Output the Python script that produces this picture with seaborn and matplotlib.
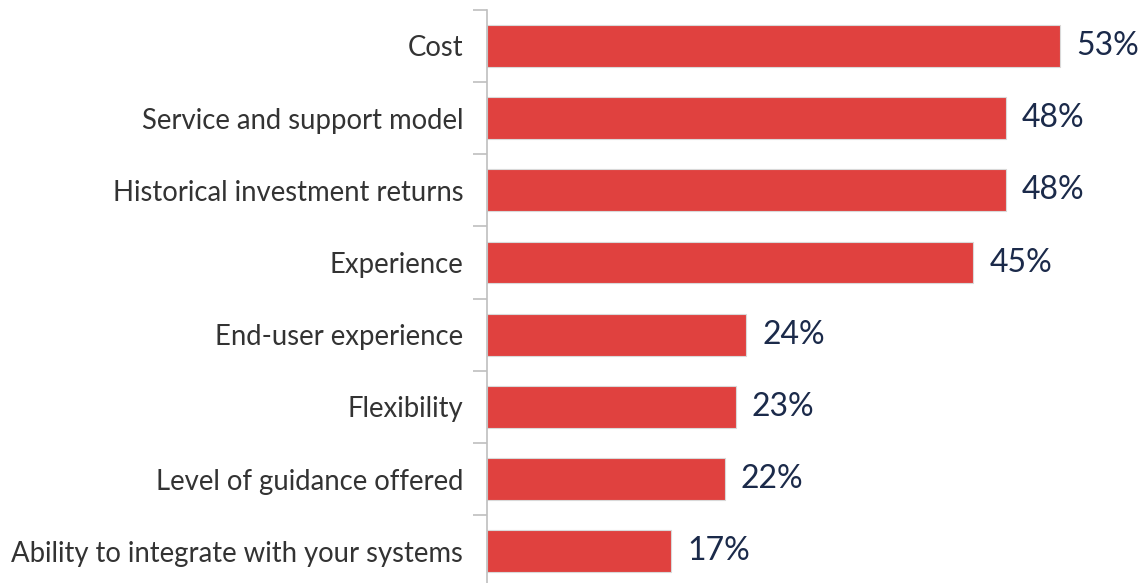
import matplotlib
matplotlib.use("Agg")
import matplotlib.pyplot as plt
import seaborn as sns
import pandas as pd

categories = [
    "Cost",
    "Service and support model",
    "Historical investment returns",
    "Experience",
    "End-user experience",
    "Flexibility",
    "Level of guidance offered",
    "Ability to integrate with your systems",
]
values = [53, 48, 48, 45, 24, 23, 22, 17]

df = pd.DataFrame({"factor": categories, "pct": values})

sns.set_theme(style="white")
plt.rcParams["font.family"] = ["Lato", "DejaVu Sans"]

fig = plt.figure(figsize=(11.43, 5.83), dpi=100)
ax = fig.add_axes([0.426, 0.0, 0.574, 0.983])

sns.barplot(data=df, x="pct", y="factor", orient="h", color="#E0413F",
            saturation=1, width=0.58, edgecolor="#D9D9D9", linewidth=0.8, ax=ax)

for i, v in enumerate(values):
    ax.text(v + 1.5, i, f"{v}%", va="center", ha="left",
            fontsize=23, color="#1B2A4A")

ax.set_xlim(0, 60.7)
ax.set_ylim(7.44, -0.5)
ax.set_xlabel("")
ax.set_ylabel("")
ax.set_xticks([])

# category labels, ticks at the boundaries between bars
ax.set_yticks(range(len(categories)))
ax.set_yticklabels(categories, fontsize=19.8, color="#333333")
ax.tick_params(axis="y", which="major", length=0, pad=17)
ax.set_yticks([i - 0.5 for i in range(len(categories))], minor=True)
ax.tick_params(axis="y", which="minor", length=10, width=1.2, color="#BFBFBF", left=True)

for s in ["top", "right", "bottom"]:
    ax.spines[s].set_visible(False)
ax.spines["left"].set_color("#BFBFBF")
ax.spines["left"].set_linewidth(1.2)

fig.savefig("out.png", dpi=100)
